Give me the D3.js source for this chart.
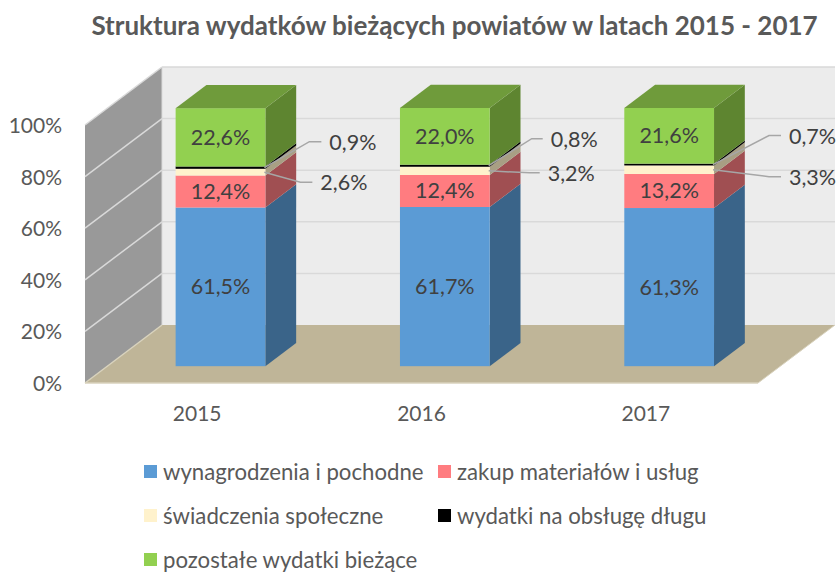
<!DOCTYPE html>
<html><head><meta charset="utf-8">
<script src="https://cdn.jsdelivr.net/npm/d3@7"></script>
<style>html,body{margin:0;padding:0;background:#fff}svg{display:block}text{font-family:Lato,"Open Sans",sans-serif}</style>
</head><body><div id="c"></div>
<script>
const years = ["2015","2016","2017"];
const seriesNames = ["wynagrodzenia i pochodne","zakup materiałów i usług","świadczenia społeczne","wydatki na obsługę długu","pozostałe wydatki bieżące"];
const wynagrodzenia = [61.5,61.7,61.3];
const zakup = [12.4,12.4,13.2];
const swiadczenia = [2.6,3.2,3.3];
const dlug = [0.9,0.8,0.7];
const pozostale = [22.6,22.0,21.6];
const yTicks = [0,20,40,60,80,100];
const title = "Struktura wydatków bieżących powiatów w latach 2015 - 2017";

const colors = ["#5b9bd5","#ff7c80","#fff2cc","#000000","#92d050"];
const sideColors = ["#3a6489","#a04f52","#a89f84","#000000","#5e8530"];
const topColor = "#6f9b3b";
const seriesValues = [wynagrodzenia,zakup,swiadczenia,dlug,pozostale];

const W=837,H=572;
const svg=d3.select("#c").append("svg").attr("width",W).attr("height",H);
const x=d3.scaleBand().domain(years).range([85,758]).paddingInner(0.6).paddingOuter(0.3);
const y=d3.scaleLinear().domain([0,100]).range([383,125]);
const z=d3.scaleLinear().domain([0,1]).range([0,1]);
const DX=77,DY=-58;
const px=(xv,zv)=>xv+z(zv)*DX, py=(v,zv)=>y(v)+z(zv)*DY;
const poly=pts=>pts.map(p=>p.join(",")).join(" ");
const gridC="#d9d9d9";

// back wall
svg.append("polygon").attr("fill","#ececec")
  .attr("points",poly([[px(85,1),py(0,1)],[px(758,1),py(0,1)],[px(758,1),py(100,1)],[px(85,1),py(100,1)]]));
// side wall
svg.append("polygon").attr("fill","#999999")
  .attr("points",poly([[px(85,0),py(0,0)],[px(85,1),py(0,1)],[px(85,1),py(100,1)],[px(85,0),py(100,0)]]));
// floor
svg.append("polygon").attr("fill","#bfb598")
  .attr("points",poly([[px(85,0),py(0,0)],[px(85,1),py(0,1)],[px(758,1),py(0,1)],[px(758,0),py(0,0)]]));
// gridlines
yTicks.forEach(t=>{
  if(t>0) svg.append("line").attr("x1",px(85,1)).attr("x2",px(758,1)).attr("y1",py(t,1)).attr("y2",py(t,1)).attr("stroke",gridC).attr("stroke-width",1.5);
  svg.append("line").attr("x1",px(85,0)).attr("x2",px(85,1)).attr("y1",py(t,0)).attr("y2",py(t,1)).attr("stroke",t===0?"#d8d2bd":gridC).attr("stroke-width",1.5);
});
svg.append("line").attr("x1",px(85,1)).attr("x2",px(85,1)).attr("y1",py(0,1)).attr("y2",py(100,1)).attr("stroke",gridC).attr("stroke-width",1);
svg.append("line").attr("x1",px(85,0)).attr("x2",px(758,0)).attr("y1",py(0,0)).attr("y2",py(0,0)).attr("stroke","#d8d2bd").attr("stroke-width",1.5);
svg.append("line").attr("x1",px(758,0)).attr("x2",px(758,1)).attr("y1",py(0,0)).attr("y2",py(0,1)).attr("stroke","#d8d2bd").attr("stroke-width",1);

// y axis labels
svg.append("g").selectAll("text").data(yTicks).join("text")
  .attr("x",62).attr("y",d=>y(d)+8).attr("text-anchor","end")
  .attr("font-size",21).attr("fill","#595959").text(d=>d+"%");
// x axis labels
svg.append("g").selectAll("text").data(years).join("text")
  .attr("x",d=>x(d)+x.bandwidth()/2).attr("y",421).attr("text-anchor","middle")
  .attr("font-size",21).attr("fill","#595959").text(d=>d);

// bars
const Z0=0.29,Z1=0.69,BAR_SHIFT=1;
const leaderOffsets={ // [elbow dx, elbow dy, end dx] relative to the segment's right edge
 3:[[44,-26,56],[42,-27,53],[55,-29,67]],
 2:[[35,10,47],[40,2,50],[55,7,67]]
};
const fmt=v=>v.toFixed(1).replace(".",",")+"%";
years.forEach((yr,i)=>{
  const xl=x(yr)+BAR_SHIFT, xr=xl+x.bandwidth();
  let cum=0;
  const g=svg.append("g");
  seriesValues.forEach((vals,s)=>{
    const a=cum,b=cum+vals[i]; cum=b;
    g.append("polygon").attr("fill",sideColors[s])
      .attr("points",poly([[px(xr,Z0),py(a,Z0)],[px(xr,Z1),py(a,Z1)],[px(xr,Z1),py(b,Z1)],[px(xr,Z0),py(b,Z0)]]));
    g.append("rect").attr("x",px(xl,Z0)).attr("width",x.bandwidth()).attr("y",py(b,Z0)).attr("height",py(a,Z0)-py(b,Z0)).attr("fill",colors[s]);
  });
  g.append("polygon").attr("fill",topColor)
    .attr("points",poly([[px(xl,Z0),py(cum,Z0)],[px(xr,Z0),py(cum,Z0)],[px(xr,Z1),py(cum,Z1)],[px(xl,Z1),py(cum,Z1)]]));
  cum=0;
  seriesValues.forEach((vals,s)=>{
    const a=cum,b=cum+vals[i]; cum=b;
    const cy=(py(a,Z0)+py(b,Z0))/2;
    const rx=px(xr,Z0);
    if(leaderOffsets[s]){
      const o=leaderOffsets[s][i];
      const ex=rx+o[0],ey=cy+o[1],fx=rx+o[2];
      g.append("polyline").attr("fill","none").attr("stroke","#a6a6a6").attr("stroke-width",1.5)
        .attr("points",poly([[rx-1,cy],[ex,ey],[fx,ey]]));
      g.append("text").attr("x",fx+8).attr("y",ey+8).attr("font-size",21.5).attr("fill","#404040").text(fmt(vals[i]));
    } else {
      g.append("text").attr("x",px(xl,Z0)+x.bandwidth()/2).attr("y",cy+7.5).attr("text-anchor","middle")
        .attr("font-size",21.5).attr("fill","#404040").text(fmt(vals[i]));
    }
  });
});

// title
svg.append("text").attr("x",454.5).attr("y",35).attr("text-anchor","middle").attr("font-size",26).attr("font-weight",700).attr("fill","#595959").text(title);

// legend
const legCols=[144,438], legRows=[472,516,560];
seriesNames.forEach((n,s)=>{
  const col=s%2,row=Math.floor(s/2);
  svg.append("rect").attr("x",legCols[col]).attr("y",legRows[row]-7).attr("width",13).attr("height",13).attr("fill",colors[s]);
  svg.append("text").attr("x",legCols[col]+19).attr("y",legRows[row]+8).attr("font-size",22.2).attr("fill","#595959").text(n);
});
</script></body></html>
